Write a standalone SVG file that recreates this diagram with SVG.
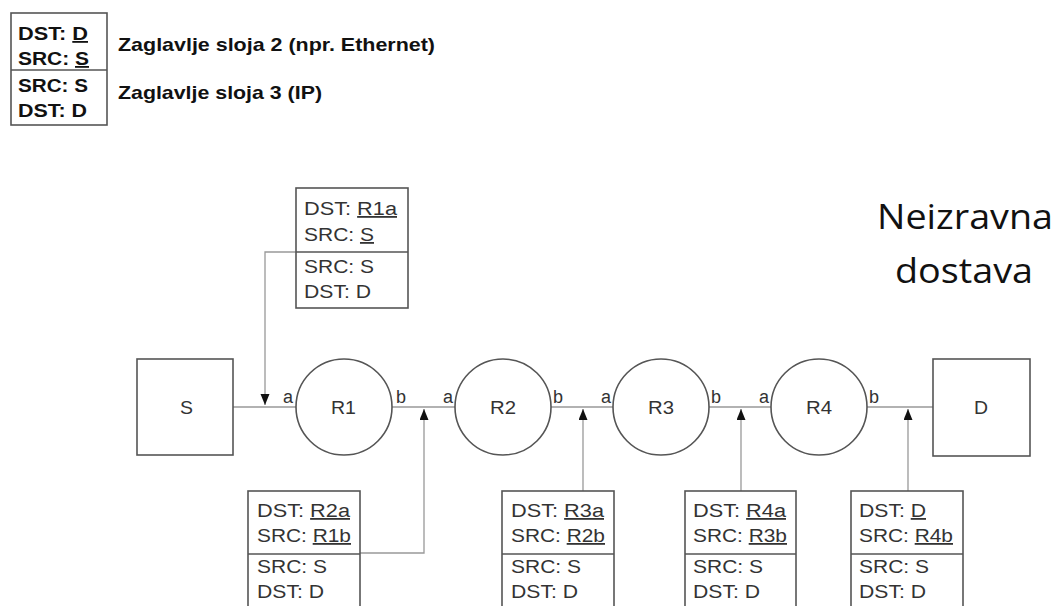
<svg xmlns="http://www.w3.org/2000/svg" width="1059" height="606" viewBox="0 0 1059 606">
<style>
.box{fill:#fff;stroke:#555;stroke-width:1.6}
.div{stroke:#555;stroke-width:1.6}
.conn{fill:none;stroke:#999;stroke-width:1.3}
.t{font-family:"Liberation Sans",Arial,sans-serif;font-size:18px;fill:#333}
.lbl{font-family:"Liberation Sans",Arial,sans-serif;font-size:18px;fill:#333}
.leg{font-family:"Liberation Sans",Arial,sans-serif;font-size:18px;font-weight:bold;fill:#111}
.leg2{font-family:"Liberation Sans",Arial,sans-serif;font-size:19px;font-weight:bold;fill:#111}
.big{font-family:"Open Sans","Liberation Sans",sans-serif;font-size:35px;fill:#111}
.u{text-decoration:underline}
</style>
<defs>
<marker id="arr" markerUnits="userSpaceOnUse" markerWidth="12" markerHeight="10" refX="11" refY="4.5" orient="auto">
<path d="M0,0 L11,4.5 L0,9 z" fill="#111"/>
</marker>
</defs>
<rect width="1059" height="606" fill="#fff"/>

<g id="legend">
<rect class="box" x="11" y="13" width="96" height="112" stroke-width="2"/>
<line class="div" x1="11" y1="70" x2="107" y2="70" stroke-width="2"/>
<text class="leg" x="18" y="40" textLength="70" lengthAdjust="spacingAndGlyphs">DST: <tspan class="u">D</tspan></text>
<text class="leg" x="18" y="65" textLength="71" lengthAdjust="spacingAndGlyphs">SRC: <tspan class="u">S</tspan></text>
<text class="leg" x="18" y="92" textLength="70" lengthAdjust="spacingAndGlyphs">SRC: S</text>
<text class="leg" x="18" y="117" textLength="69" lengthAdjust="spacingAndGlyphs">DST: D</text>
<text class="leg2" x="118" y="51" textLength="317" lengthAdjust="spacingAndGlyphs">Zaglavlje sloja 2 (npr. Ethernet)</text>
<text class="leg2" x="118" y="99" textLength="204" lengthAdjust="spacingAndGlyphs">Zaglavlje sloja 3 (IP)</text>
</g>

<g id="title">
<text class="big" x="877" y="229" textLength="176" lengthAdjust="spacingAndGlyphs">Neizravna</text>
<text class="big" x="895" y="283" textLength="138" lengthAdjust="spacingAndGlyphs">dostava</text>
</g>

<g id="connectors">
<line class="conn" x1="233" y1="407" x2="296" y2="407"/>
<line class="conn" x1="392" y1="407" x2="455" y2="407"/>
<line class="conn" x1="551" y1="407" x2="613" y2="407"/>
<line class="conn" x1="709" y1="407" x2="771" y2="407"/>
<line class="conn" x1="867" y1="407" x2="933" y2="407"/>
<path class="conn" d="M296,252 H265 V405" marker-end="url(#arr)"/>
<path class="conn" d="M360,553 H424 V409" marker-end="url(#arr)"/>
<path class="conn" d="M583,491 V409" marker-end="url(#arr)"/>
<path class="conn" d="M741,491 V409" marker-end="url(#arr)"/>
<path class="conn" d="M908,491 V409" marker-end="url(#arr)"/>
</g>

<g id="S">
<rect class="box" x="137" y="359" width="96" height="96"/>
<text class="lbl" x="180" y="414" textLength="13" lengthAdjust="spacingAndGlyphs">S</text>
</g>
<g id="D">
<rect class="box" x="933" y="359" width="97" height="97"/>
<text class="lbl" x="974" y="414" textLength="14" lengthAdjust="spacingAndGlyphs">D</text>
</g>

<g id="R1">
<circle class="box" cx="344" cy="407" r="48"/>
<text class="lbl" x="331" y="414" textLength="25" lengthAdjust="spacingAndGlyphs">R1</text>
<text class="lbl" x="283" y="403">a</text>
<text class="lbl" x="396" y="403">b</text>
</g>
<g id="R2">
<circle class="box" cx="503" cy="407" r="48"/>
<text class="lbl" x="490" y="414" textLength="26" lengthAdjust="spacingAndGlyphs">R2</text>
<text class="lbl" x="443" y="403">a</text>
<text class="lbl" x="553" y="403">b</text>
</g>
<g id="R3">
<circle class="box" cx="661" cy="407" r="48"/>
<text class="lbl" x="648" y="414" textLength="26" lengthAdjust="spacingAndGlyphs">R3</text>
<text class="lbl" x="601" y="403">a</text>
<text class="lbl" x="711" y="403">b</text>
</g>
<g id="R4">
<circle class="box" cx="819" cy="407" r="48"/>
<text class="lbl" x="806" y="414" textLength="26" lengthAdjust="spacingAndGlyphs">R4</text>
<text class="lbl" x="759" y="403">a</text>
<text class="lbl" x="869" y="403">b</text>
</g>

<g id="hdr-S-R1">
<rect class="box" x="296" y="188" width="112" height="120"/>
<line class="div" x1="296" y1="252" x2="408" y2="252"/>
<text class="t" x="304" y="215" textLength="93" lengthAdjust="spacingAndGlyphs">DST: <tspan class="u">R1a</tspan></text>
<text class="t" x="304" y="241" textLength="70" lengthAdjust="spacingAndGlyphs">SRC: <tspan class="u">S</tspan></text>
<text class="t" x="304" y="273" textLength="70" lengthAdjust="spacingAndGlyphs">SRC: S</text>
<text class="t" x="304" y="298" textLength="67" lengthAdjust="spacingAndGlyphs">DST: D</text>
</g>

<g id="hdr-R1-R2">
<rect class="box" x="248" y="491" width="112" height="130"/>
<line class="div" x1="248" y1="554" x2="360" y2="554"/>
<text class="t" x="257" y="517" textLength="93" lengthAdjust="spacingAndGlyphs">DST: <tspan class="u">R2a</tspan></text>
<text class="t" x="257" y="542" textLength="94" lengthAdjust="spacingAndGlyphs">SRC: <tspan class="u">R1b</tspan></text>
<text class="t" x="257" y="573" textLength="70" lengthAdjust="spacingAndGlyphs">SRC: S</text>
<text class="t" x="257" y="598" textLength="67" lengthAdjust="spacingAndGlyphs">DST: D</text>
</g>

<g id="hdr-R2-R3">
<rect class="box" x="502" y="491" width="112" height="130"/>
<line class="div" x1="502" y1="554" x2="614" y2="554"/>
<text class="t" x="511" y="517" textLength="93" lengthAdjust="spacingAndGlyphs">DST: <tspan class="u">R3a</tspan></text>
<text class="t" x="511" y="542" textLength="94" lengthAdjust="spacingAndGlyphs">SRC: <tspan class="u">R2b</tspan></text>
<text class="t" x="511" y="573" textLength="70" lengthAdjust="spacingAndGlyphs">SRC: S</text>
<text class="t" x="511" y="598" textLength="67" lengthAdjust="spacingAndGlyphs">DST: D</text>
</g>

<g id="hdr-R3-R4">
<rect class="box" x="685" y="491" width="111" height="130"/>
<line class="div" x1="685" y1="554" x2="796" y2="554"/>
<text class="t" x="693" y="517" textLength="93" lengthAdjust="spacingAndGlyphs">DST: <tspan class="u">R4a</tspan></text>
<text class="t" x="693" y="542" textLength="94" lengthAdjust="spacingAndGlyphs">SRC: <tspan class="u">R3b</tspan></text>
<text class="t" x="693" y="573" textLength="70" lengthAdjust="spacingAndGlyphs">SRC: S</text>
<text class="t" x="693" y="598" textLength="67" lengthAdjust="spacingAndGlyphs">DST: D</text>
</g>

<g id="hdr-R4-D">
<rect class="box" x="851" y="491" width="112" height="130"/>
<line class="div" x1="851" y1="554" x2="963" y2="554"/>
<text class="t" x="859" y="517" textLength="67" lengthAdjust="spacingAndGlyphs">DST: <tspan class="u">D</tspan></text>
<text class="t" x="859" y="542" textLength="94" lengthAdjust="spacingAndGlyphs">SRC: <tspan class="u">R4b</tspan></text>
<text class="t" x="859" y="573" textLength="70" lengthAdjust="spacingAndGlyphs">SRC: S</text>
<text class="t" x="859" y="598" textLength="67" lengthAdjust="spacingAndGlyphs">DST: D</text>
</g>
</svg>
